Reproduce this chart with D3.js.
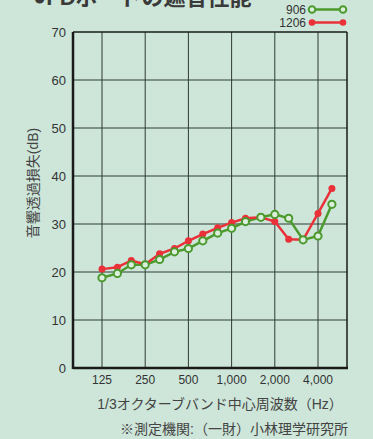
<!DOCTYPE html>
<html>
<head>
<meta charset="utf-8">
<script src="https://cdn.jsdelivr.net/npm/d3@7"></script>
<style>
  body { margin: 0; background: #cde6d9; }
  svg { display: block; }
  text { font-family: "Liberation Sans", "Noto Sans CJK JP", sans-serif; fill: #333; }
</style>
</head>
<body>
<svg></svg>
<script>
// 1/3 octave band centres (Hz)
const freqs = [125, 160, 200, 250, 315, 400, 500, 630, 800, 1000, 1250, 1600, 2000, 2500, 3150, 4000, 5000];
const tickFreqs = [125, 250, 500, 1000, 2000, 4000];
const tickLabels = ['125', '250', '500', '1,000', '2,000', '4,000'];
const yTicks = [0, 10, 20, 30, 40, 50, 60, 70];

const s906 = [18.8, 19.7, 21.5, 21.5, 22.6, 24.2, 24.9, 26.5, 28.1, 29.1, 30.5, 31.4, 32.0, 31.2, 26.7, 27.5, 34.1];
const s1206 = [20.6, 21.0, 22.4, 21.6, 23.8, 24.9, 26.5, 27.9, 29.2, 30.3, 31.2, 31.4, 30.5, 26.8, 26.7, 32.2, 37.4];

const width = 373;
const height = 439;
const svg = d3.select('svg').attr('width', width).attr('height', height);

const margin = { left: 73, right: 347, top: 32, bottom: 368 };

const x = d3.scaleLog().base(2).domain([125, 4000]).range([102, 318]);
const y = d3.scaleLinear().domain([0, 70]).range([margin.bottom, margin.top]);

// title, clipped at top like the scan
svg.append('text')
  .attr('x', 33).attr('y', 5)
  .style('font-size', '22px').style('font-weight', 'bold')
  .style('fill', '#3a3a3a')
  .text('●FDボードの遮音性能');

// grid
const g = svg.append('g');
g.selectAll('line.h')
  .data(yTicks.slice(1, -1))
  .enter().append('line')
  .attr('x1', margin.left).attr('x2', margin.right)
  .attr('y1', d => y(d)).attr('y2', d => y(d))
  .attr('stroke', '#2f3a35').attr('stroke-width', 1);
g.selectAll('line.v')
  .data(tickFreqs)
  .enter().append('line')
  .attr('x1', d => x(d)).attr('x2', d => x(d))
  .attr('y1', margin.top).attr('y2', margin.bottom)
  .attr('stroke', '#2f3a35').attr('stroke-width', 1);

// frame
g.append('line').attr('x1', margin.left).attr('x2', margin.right).attr('y1', margin.top).attr('y2', margin.top)
  .attr('stroke', '#1a1a1a').attr('stroke-width', 1.5);
g.append('line').attr('x1', margin.right).attr('x2', margin.right).attr('y1', margin.top).attr('y2', margin.bottom)
  .attr('stroke', '#1a1a1a').attr('stroke-width', 1.5);
g.append('line').attr('x1', margin.left).attr('x2', margin.left).attr('y1', margin.top).attr('y2', margin.bottom + 1)
  .attr('stroke', '#1a1a1a').attr('stroke-width', 2.5);
g.append('line').attr('x1', margin.left).attr('x2', margin.right + 1).attr('y1', margin.bottom).attr('y2', margin.bottom)
  .attr('stroke', '#1a1a1a').attr('stroke-width', 2.5);

// y tick labels
svg.selectAll('text.yt')
  .data(yTicks)
  .enter().append('text')
  .attr('x', 66).attr('y', d => y(d) + 5)
  .attr('text-anchor', 'end')
  .style('font-size', '13px')
  .text(d => d);

// x tick labels
svg.selectAll('text.xt')
  .data(tickFreqs)
  .enter().append('text')
  .attr('x', d => x(d)).attr('y', 384)
  .attr('text-anchor', 'middle')
  .style('font-size', '12px')
  .text((d, i) => tickLabels[i]);

// axis titles
svg.append('text')
  .attr('transform', 'translate(38,183) rotate(-90)')
  .attr('text-anchor', 'middle')
  .style('font-size', '14px').style('fill', '#444')
  .text('音響透過損失(dB)');

svg.append('text')
  .attr('x', 220).attr('y', 409)
  .attr('text-anchor', 'middle')
  .style('font-size', '14px').style('fill', '#444')
  .text('1/3オクターブバンド中心周波数（Hz）');

svg.append('text')
  .attr('x', 348).attr('y', 434)
  .attr('text-anchor', 'end')
  .style('font-size', '14px').style('fill', '#444')
  .text('※測定機関:（一財）小林理学研究所');

// series
const green = '#4c9a2e';
const red = '#ea3038';
const line = d3.line().x((d, i) => x(freqs[i])).y(d => y(d));

svg.append('path').datum(s906).attr('d', line)
  .attr('fill', 'none').attr('stroke', green).attr('stroke-width', 2.5);
svg.append('path').datum(s1206).attr('d', line)
  .attr('fill', 'none').attr('stroke', red).attr('stroke-width', 2.5);

svg.selectAll('circle.r')
  .data(s1206)
  .enter().append('circle')
  .attr('cx', (d, i) => x(freqs[i])).attr('cy', d => y(d))
  .attr('r', 3.5).attr('fill', red);

svg.selectAll('circle.gr')
  .data(s906)
  .enter().append('circle')
  .attr('cx', (d, i) => x(freqs[i])).attr('cy', d => y(d))
  .attr('r', 3.6).attr('fill', '#dcefdc')
  .attr('stroke', green).attr('stroke-width', 2);

// legend
const legend = [
  { name: '906', color: green, open: true, yy: 9.5 },
  { name: '1206', color: red, open: false, yy: 22.5 },
];
const lg = svg.selectAll('g.lg').data(legend).enter().append('g');
lg.append('text')
  .attr('x', 306).attr('y', d => d.yy + 4)
  .attr('text-anchor', 'end')
  .style('font-size', '12px')
  .text(d => d.name);
lg.append('line')
  .attr('x1', 312).attr('x2', 343)
  .attr('y1', d => d.yy).attr('y2', d => d.yy)
  .attr('stroke', d => d.color).attr('stroke-width', 2.5);
lg.each(function (d) {
  d3.select(this).selectAll('circle')
    .data([312, 343])
    .enter().append('circle')
    .attr('cx', c => c).attr('cy', d.yy)
    .attr('r', 3.3)
    .attr('fill', d.open ? '#dcefdc' : d.color)
    .attr('stroke', d.color).attr('stroke-width', d.open ? 2 : 0);
});
</script>
</body>
</html>
